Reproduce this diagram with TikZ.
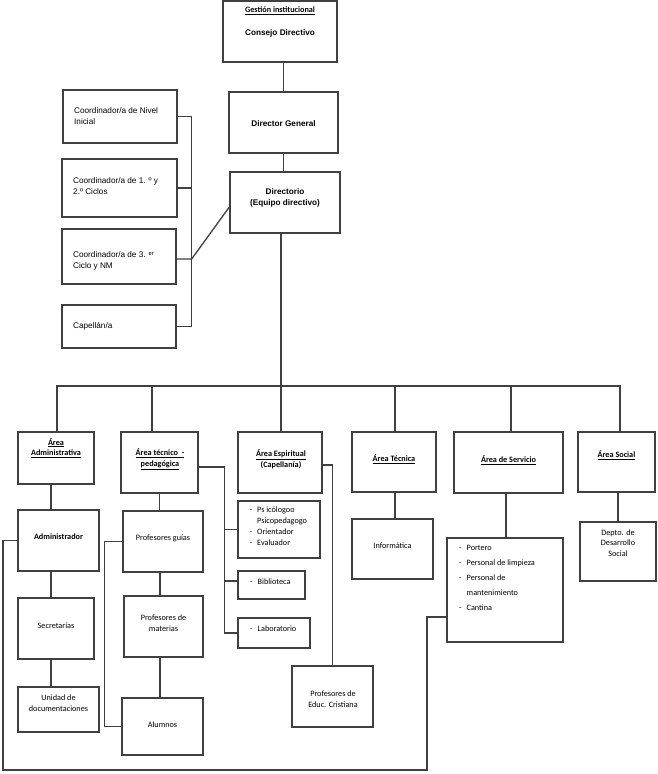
\documentclass[tikz,border=0pt]{standalone}
\usepackage{fontspec}
\newfontfamily\arialfont{Liberation Sans}
\newfontfamily\calfont{Carlito}
\newcommand{\itm}[1]{\makebox[7.5pt][l]{-}#1}

\begin{document}
\begin{tikzpicture}[x=1pt, y=-1pt,
  box/.style 2 args={draw=black!75, line width=1.3pt, minimum width=#1, minimum height=#2, inner sep=0pt},
  ln/.style={draw=black!75, line width=1.3pt},
  ar/.style={font=\arialfont\fontsize{8.2}{10.4}\selectfont, align=left, anchor=west, inner sep=0pt},
  arb/.style={font=\arialfont\bfseries\fontsize{8.2}{10.6}\selectfont, align=center, inner sep=0pt},
  cal/.style={font=\calfont\fontsize{8.2}{10.8}\selectfont, align=center, inner sep=0pt},
  calb/.style={cal, font=\calfont\bfseries\fontsize{8.2}{10.8}\selectfont},
  lst/.style={cal, align=left, anchor=west},
]
\useasboundingbox (0,0) rectangle (657,774);

% boxes
\node[box={114}{61}] (cd) at (280,31.5) {};
\node[box={109}{61}] (dg) at (283.5,122.5) {};
\node[box={110}{61}] (dir) at (285,202.5) {};

\node[box={114}{53}] (c1) at (120,116.5) {};
\node[box={115}{58}] (c2) at (119.5,188) {};
\node[box={114}{55}] (c3) at (119,256.5) {};
\node[box={114}{43}] (cap) at (119,326.5) {};

\node[box={76}{52}] (adm) at (56,458) {};
\node[box={77}{61}] (tp) at (159.5,462.5) {};
\node[box={84}{61}] (esp) at (280,462.5) {};
\node[box={84}{60}] (tec) at (394,462) {};
\node[box={109}{61}] (serv) at (508.5,462.5) {};
\node[box={77}{60}] (soc) at (616.5,462) {};

\node[box={81}{61}] (admr) at (58.5,540.5) {};
\node[box={76}{61}] (sec) at (56,628.5) {};
\node[box={81}{45}] (udoc) at (58.5,709.5) {};

\node[box={80}{61}] (pg) at (163,541.5) {};
\node[box={79}{61}] (pm) at (163.5,626.5) {};
\node[box={81}{57}] (alu) at (162.5,726.5) {};

\node[box={82}{57}] (psi) at (279,529.5) {};
\node[box={67}{28}] (bib) at (271.5,585) {};
\node[box={72}{30}] (lab) at (274,633) {};
\node[box={81}{61}] (pec) at (332.5,696.5) {};

\node[box={81}{60}] (inf) at (392.5,549) {};
\node[box={116}{104}] (slist) at (505,590) {};
\node[box={76}{59}] (dep) at (618,551.5) {};

% texts
\node[calb] (cdt1) at (280,11) {\underline{Gestión institucional}};
\node[arb] (cdt2) at (280,33) {Consejo Directivo};
\node[arb] (dgt) at (283.5,124) {Director General};
\node[arb] (dirt) at (285,198) {Directorio\\(Equipo directivo)};

\node[ar] (c1t) at (74,116) {Coordinador/a de Nivel\\Inicial};
\node[ar] (c2t) at (73,186) {Coordinador/a de 1. º y\\2.º Ciclos};
\node[ar] (c3t) at (73,261) {Coordinador/a de 3. \textsuperscript{er}\\Ciclo y NM};
\node[ar] (capt) at (73,326) {Capellán/a};

\node[calb] (admt) at (56,448) {\underline{Área}\\\underline{Administrativa}};
\node[calb] (tpt) at (160,459.5) {\underline{Área técnico \ -}\\\underline{pedagógica}};
\node[calb] (espt) at (281,459.5) {\underline{Área Espiritual}\\(Capellanía)};
\node[calb] (tect) at (394,459) {\underline{Área Técnica}};
\node[calb] (servt) at (508.5,460) {\underline{Área de Servicio}};
\node[calb] (soct) at (616.5,455) {\underline{Área Social}};

\node[calb] (admrt) at (58.5,537) {Administrador};
\node[cal] (sect) at (56,626) {Secretarías};
\node[cal] (udoct) at (58.5,703) {Unidad de\\documentaciones};

\node[cal] (pgt) at (163,538) {Profesores guías};
\node[cal] (pmt) at (163.5,623.5) {Profesores de\\materias};
\node[cal] (alut) at (162.5,725) {Alumnos};

\node[lst] (psit) at (249.5,526) {\itm{Ps icólogoo}\\\makebox[7.5pt]{}Psicopedagogo\\\itm{Orientador}\\\itm{Evaluador}};
\node[lst] (bibt) at (250,582) {\itm{Biblioteca}};
\node[lst] (labt) at (250,629) {\itm{Laboratorio}};
\node[cal] (pect) at (333,699) {Profesores de\\Educ. Cristiana};

\node[cal] (inft) at (392.5,546) {Informática};
\node[lst, font=\calfont\fontsize{8.2}{15}\selectfont] (slistt) at (459,578)
  {\itm{Portero}\\\itm{Personal de limpieza}\\\itm{Personal de}\\\makebox[7.5pt]{}mantenimiento\\\itm{Cantina}};
\node[cal] (dept) at (618,543) {Depto. de\\Desarrollo\\Social};

% top chain
\draw[ln] (dg.north) -- (dg.north |- cd.south);
\draw[ln] (dg.south) -- (dg.south |- dir.north);
\coordinate (bus) at (281,386);
\draw[ln] (dir.south -| bus) -- (bus);

% coordinators
\draw[ln] (c1.east) -| ([xshift=15]cap.east) -- (cap.east);
\draw[ln] (c2.east) -- ++(14,0);
\draw[ln] ([yshift=-2.5]c3.east) -- ++(15,0) -- ([yshift=-4.5]dir.west);

% areas
\draw[ln] ([xshift=1]bus -| adm.north) -- ([xshift=3.5]bus -| soc.north);
\draw[ln] ([xshift=1]adm.north) -- ++(0,-46);
\draw[ln] ([xshift=-7.5]tp.north) -- ++(0,-46);
\draw[ln] ([xshift=1]esp.north) -- ++(0,-46);
\draw[ln] ([xshift=1]tec.north) -- ++(0,-46);
\draw[ln] ([xshift=2.5]serv.north) -- ++(0,-46);
\draw[ln] ([xshift=3.5]soc.north) -- ++(0,-46);

% administrativa
\draw[ln] ([xshift=-5]adm.south) -- ([xshift=-5]adm.south |- admr.north);
\draw[ln] ([xshift=-7.5]admr.south) -- ([xshift=-7.5]admr.south |- sec.north);
\draw[ln] ([xshift=-5]sec.south) -- ([xshift=-5]sec.south |- udoc.north);

% tecnico-pedagogica
\draw[ln] (tp.south) -- (tp.south |- pg.north);
\draw[ln] ([xshift=-3]pg.south) -- ([xshift=-3]pg.south |- pm.north);
\draw[ln] ([xshift=-3.5]pm.south) -- ([xshift=-3.5]pm.south |- alu.north);
\draw[ln] (pg.west) -- ++(-18,0) |- (alu.west);
\draw[ln] ([yshift=-4.5]tp.east) -| ([xshift=-13]lab.west) -- (lab.west);
\draw[ln] (psi.west) -- ++(-13,0);
\draw[ln] ([yshift=4]bib.west) -- ++(-13,0);

% espiritual
\draw[ln] ([yshift=-2.5]esp.east) -| (pec.north);

% tecnica, servicio, social
\draw[ln] ([xshift=1]tec.south) -- ([xshift=1]tec.south |- inf.north);
\draw[ln] ([xshift=-2.5]serv.south) -- ([xshift=-2.5]serv.south |- slist.north);
\draw[ln] ([xshift=1.5]soc.south) -- ([xshift=1.5]soc.south |- dep.north);

% loop round the bottom
\coordinate (lpL) at (3,770);
\coordinate (lpR) at (427,770);
\draw[ln] (admr.west) -| (lpL) -- (lpR) |- ([yshift=-27]slist.west);

\end{tikzpicture}
\end{document}
